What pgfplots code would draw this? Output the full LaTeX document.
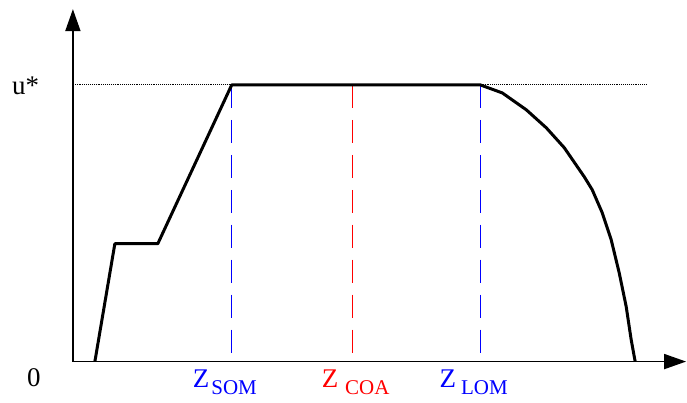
\documentclass[border=0pt]{standalone}
\usepackage{fontspec}
\setmainfont{Liberation Serif}
\usepackage{pgfplots}
\pgfplotsset{compat=1.18}
\usetikzlibrary{arrows.meta}

% Z with a large lowered subscript; #2 is the gap after the Z
\newcommand{\Zsub}[2]{Z\hspace{#2}{\fontsize{21}{21}\selectfont\raisebox{-7pt}{#1}}}

\begin{document}
\begin{tikzpicture}
\begin{axis}[
  x=1pt, y=277pt,
  xmin=0, xmax=614, ymin=0, ymax=1.274,
  axis lines=left,
  axis line style={line width=1.8pt, -{Triangle[length=22pt,width=15pt]}},
  xtick=\empty, ytick=\empty,
  clip=false,
  font=\fontsize{27}{32}\selectfont,
]
% canvas extent
\path (axis cs:-73,-0.148) rectangle (axis cs:614,1.307);

% reference level u*
\addplot[densely dotted, line width=0.9pt] coordinates {(0,1) (575,1)};

% depth markers
\addplot[blue, line width=1.3pt, dash pattern=on 23pt off 12pt] coordinates {(159,1) (159,0)};
\addplot[red, line width=1.3pt, dash pattern=on 23pt off 12pt] coordinates {(280,1) (280,0)};
\addplot[blue, line width=1.3pt, dash pattern=on 23pt off 12pt] coordinates {(408,1) (408,0)};

% profile
\addplot[black, line width=3pt, line join=round] coordinates {
  (22,0) (42,0.426) (85,0.426) (159,1) (408,1)
  (430,0.971) (454,0.910) (474,0.845) (492,0.773) (512,0.668)
  (520,0.621) (530,0.538) (539,0.440) (547,0.321) (554,0.199)
  (559,0.079) (563,0)
};

% labels
\node[anchor=base west, inner sep=0] at (axis cs:-61,0.967) {u*};
\node[anchor=base west, inner sep=0] at (axis cs:-46,-0.090) {0};
\node[anchor=base west, inner sep=0, text=blue] at (axis cs:120,-0.094) {\Zsub{SOM}{2pt}};
\node[anchor=base west, inner sep=0, text=red] at (axis cs:249,-0.094) {\Zsub{COA}{7pt}};
\node[anchor=base west, inner sep=0, text=blue] at (axis cs:367,-0.094) {\Zsub{LOM}{5pt}};
\end{axis}
\end{tikzpicture}
\end{document}
